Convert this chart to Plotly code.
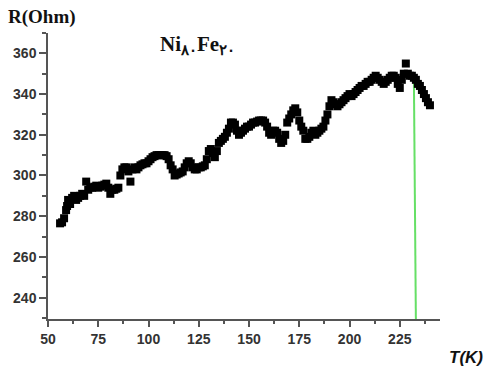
import plotly.graph_objects as go

temperature_K = [56, 57, 58, 59, 59.5, 60, 61, 62, 63, 64, 65, 66, 67, 68, 69, 70, 71, 72, 73, 74,
                 75, 76, 77, 78, 79, 80, 81, 82, 83, 84, 85, 86, 87, 88, 89, 90, 91, 92, 93, 94,
                 95, 96, 97, 98, 99, 100, 101, 102, 103, 104, 105, 106, 107, 108, 109, 110, 111, 112, 113, 114,
                 115, 116, 117, 118, 119, 120, 121, 122, 123, 124, 125, 126, 127, 128, 129, 130, 131, 132, 133, 134,
                 135, 136, 137, 138, 139, 140, 141, 142, 143, 144, 145, 146, 147, 148, 149, 150, 151, 152, 153, 154,
                 155, 156, 157, 158, 159, 160, 161, 162, 163, 164, 165, 166, 167, 168, 169, 170, 171, 172, 173, 174,
                 175, 176, 177, 178, 179, 180, 181, 182, 183, 184, 185, 186, 187, 188, 189, 190, 191, 192, 193, 194,
                 195, 196, 197, 198, 199, 200, 201, 202, 203, 204, 205, 206, 207, 208, 209, 210, 211, 212, 213, 214,
                 215, 216, 217, 218, 219, 220, 221, 222, 223, 224, 225, 226, 227, 228, 229, 230, 231, 232, 233, 234,
                 235, 236, 237, 238, 239, 240]
resistance_ohm = [276.5, 277, 279, 283, 285, 288, 286, 289, 290, 288, 289, 290, 291, 290, 297, 293, 294, 294, 294.5, 295,
                  294, 294.5, 295, 295.5, 296, 294, 291, 293, 293, 293.5, 294, 300, 303, 304, 304, 302, 297, 303, 304, 303,
                  304, 305, 305.5, 306, 306, 307, 308, 309, 309.5, 310, 310, 310, 310, 310, 309.5, 308, 305, 303, 300, 300.5,
                  301, 301.5, 302, 304, 306, 307, 306, 304, 303, 303, 304, 304, 304.5, 305, 308, 312, 313, 311, 309, 312,
                  316, 317, 318, 319, 321, 323, 326, 326, 325, 322, 320, 321, 322, 323, 324, 324, 325, 326, 326, 326.5,
                  327, 327, 327, 326, 324, 321, 320, 322, 322, 321, 318, 316, 317, 320, 326, 328, 330, 332, 333, 331,
                  327, 324, 322, 318, 318, 319, 321, 322, 320, 321, 322, 323, 324, 327, 330, 334, 337, 336, 335, 334,
                  335, 336, 337, 338, 339, 340, 339, 340, 341, 342, 343, 344, 344, 345, 346, 346, 347, 348, 349, 348,
                  347, 346, 345, 346, 347, 348, 349, 349, 348, 345, 343, 347, 350, 355, 350, 349, 349, 348, 347, 345,
                  344, 342, 340, 338, 336, 334.5]

green_line_T = [232.0, 233.0]
green_line_R = [349, 229.5]

x_ticks = [50, 75, 100, 125, 150, 175, 200, 225]
y_ticks = [240, 260, 280, 300, 320, 340, 360]

fig = go.Figure()
fig.add_trace(go.Scatter(x=green_line_T, y=green_line_R, mode="lines",
                         line=dict(color="#66e066", width=2), showlegend=False))
fig.add_trace(go.Scatter(x=temperature_K, y=resistance_ohm, mode="markers",
                         marker=dict(symbol="square", size=8, color="black"),
                         showlegend=False))

axis_font = dict(family="Liberation Sans, Arial", size=14, color="#333333", weight="bold")
fig.update_layout(
    width=485, height=368,
    margin=dict(l=48, r=45, t=33, b=49),
    paper_bgcolor="white", plot_bgcolor="white",
    xaxis=dict(range=[50, 245], tickvals=x_ticks, ticks="outside", ticklen=6,
               tickwidth=1.5, tickcolor="#555555", showline=True, linecolor="#555555",
               linewidth=1.5, showgrid=False, zeroline=False,
               tickfont=axis_font,
               minor=dict(tickvals=[62.5, 87.5, 112.5, 137.5, 162.5, 187.5, 212.5, 237.5],
                          ticks="outside", ticklen=3, tickcolor="#555555", tickwidth=1.5)),
    yaxis=dict(range=[229.5, 370], tickvals=y_ticks, ticks="outside", ticklen=7,
               tickwidth=1.5, tickcolor="#555555", showline=True, linecolor="#555555",
               linewidth=1.5, showgrid=False, zeroline=False,
               tickfont=axis_font,
               minor=dict(tickvals=[230, 250, 270, 290, 310, 330, 350, 370],
                          ticks="outside", ticklen=4, tickcolor="#555555", tickwidth=1.5)),
)

fig.add_annotation(text="<b>R(Ohm)</b>", xref="paper", yref="paper", x=-42/392, y=1 + 16/286,
                   xanchor="left", yanchor="middle", showarrow=False,
                   font=dict(family="Liberation Serif, Times New Roman", size=19, color="#111111"))
fig.add_annotation(text="<b>Ni<sub>٨٠</sub>Fe<sub>٢٠</sub></b>", xref="paper", yref="paper",
                   x=(158 - 48) / 392, y=(319 - 45) / 286,
                   xanchor="left", yanchor="middle", showarrow=False,
                   font=dict(family="Liberation Serif, Times New Roman", size=21, color="#111111"))
fig.add_annotation(text="<b><i>T(K)</i></b>", xref="paper", yref="paper",
                   x=(485 - 48) / 392, y=(319 - 357) / 286,
                   xanchor="right", yanchor="middle", showarrow=False,
                   font=dict(family="Liberation Sans, Arial", size=17, color="#111111"))

fig.write_html("out.html")
